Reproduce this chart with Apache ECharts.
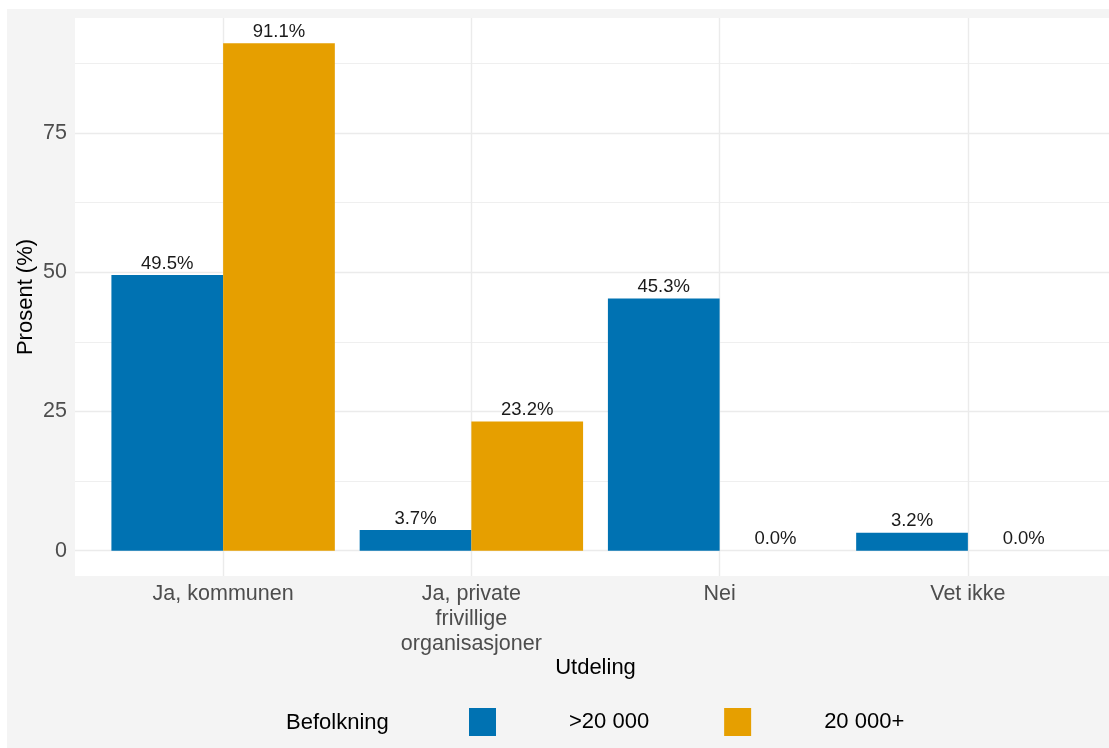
<!DOCTYPE html>
<html>
<head>
<meta charset="utf-8">
<script src="https://cdn.jsdelivr.net/npm/echarts@6/dist/echarts.min.js"></script>
<style>
html,body{margin:0;padding:0;background:#fff;}
#c{width:1109px;height:748px;}
</style>
</head>
<body>
<div id="c"></div>
<script>
const categories = ['Ja, kommunen', 'Ja, private\nfrivillige\norganisasjoner', 'Nei', 'Vet ikke'];
const seriesNames = ['>20 000', '20 000+'];
const valuesSmall = [49.5, 3.7, 45.3, 3.2];
const valuesLarge = [91.1, 23.2, 0.0, 0.0];
const yTicks = [0, 25, 50, 75];
const yMinorTicks = [12.5, 37.5, 62.5, 87.5];
const colors = ['#0072B2', '#E69F00'];
const yMin = -4.555, yMax = 95.655;

const FONT = 'Liberation Sans';
const chart = echarts.init(document.getElementById('c'), null, {renderer: 'canvas'});

const labelCfg = {
  show: true, position: 'top', distance: 2,
  fontFamily: FONT, fontSize: 18.5, color: '#1a1a1a',
  formatter: p => p.value.toFixed(1) + '%'
};

chart.setOption({
  animation: false,
  textStyle: {fontFamily: FONT},
  graphic: [
    {type: 'rect', z: -20, shape: {x: 7, y: 9, width: 1102, height: 739}, style: {fill: '#f4f4f4'}, silent: true},
    {type: 'rect', z: -19, shape: {x: 75, y: 18, width: 1034, height: 558}, style: {fill: '#ffffff'}, silent: true},
    {type: 'text', z: 10, x: 286, y: 723, style: {text: 'Befolkning', fontFamily: FONT, fontSize: 22, fill: '#000', verticalAlign: 'middle', align: 'left'}}
  ],
  legend: {
    left: 469, top: 708, padding: 0,
    icon: 'rect', itemWidth: 27, itemHeight: 28, itemGap: 75,
    data: seriesNames,
    textStyle: {fontFamily: FONT, fontSize: 22, color: '#000', padding: [0, 0, 0, 68]}
  },
  grid: [
    {left: 99, right: 17, top: 18, bottom: 172, containLabel: false},
    {left: 75, right: 0, top: 18, bottom: 172, containLabel: false}
  ],
  xAxis: [
    {
      type: 'category', gridIndex: 0, data: categories,
      axisLine: {show: false}, axisTick: {show: false},
      axisLabel: {fontFamily: FONT, fontSize: 21.5, color: '#4d4d4d', margin: 6, lineHeight: 25, interval: 0},
      splitLine: {show: false},
      name: 'Utdeling', nameLocation: 'middle', nameGap: 81, nameMoveOverlap: false,
      nameTextStyle: {fontFamily: FONT, fontSize: 22, color: '#000'}
    },
    {
      type: 'value', gridIndex: 1, min: 0, max: 1, show: false
    }
  ],
  yAxis: [
    {type: 'value', gridIndex: 0, min: yMin, max: yMax, show: false, splitLine: {show: false}},
    {
      type: 'value', gridIndex: 1, min: yMin, max: yMax,
      axisLine: {show: false}, axisTick: {show: false},
      splitLine: {show: false},
      axisLabel: {customValues: yTicks, fontFamily: FONT, fontSize: 21.5, color: '#4d4d4d', margin: 8},
      name: 'Prosent (%)', nameLocation: 'middle', nameGap: 38, nameRotate: 90, nameMoveOverlap: false,
      nameTextStyle: {fontFamily: FONT, fontSize: 22, color: '#000'}
    }
  ],
  series: [
    {
      type: 'line', xAxisIndex: 1, yAxisIndex: 1, data: [], silent: true,
      markLine: {
        silent: true, symbol: 'none', z: 0, animation: false,
        label: {show: false},
        data: yTicks.map(v => ({yAxis: v, lineStyle: {color: '#ebebeb', width: 1.4, type: 'solid'}}))
          .concat(yMinorTicks.map(v => ({yAxis: v, lineStyle: {color: '#ebebeb', width: 0.8, type: 'solid'}})))
      }
    },
    {
      type: 'line', xAxisIndex: 0, yAxisIndex: 0, data: [], silent: true,
      markLine: {
        silent: true, symbol: 'none', z: 0, animation: false,
        label: {show: false},
        lineStyle: {color: '#ebebeb', width: 1.4, type: 'solid'},
        data: categories.map(c => ({xAxis: c}))
      }
    },
    {
      name: seriesNames[0], type: 'bar', xAxisIndex: 0, yAxisIndex: 0,
      data: valuesSmall, barGap: '0%', barCategoryGap: '10%',
      itemStyle: {color: colors[0]}, label: labelCfg
    },
    {
      name: seriesNames[1], type: 'bar', xAxisIndex: 0, yAxisIndex: 0,
      data: valuesLarge, barGap: '0%', barCategoryGap: '10%',
      itemStyle: {color: colors[1]}, label: labelCfg
    }
  ]
});
</script>
</body>
</html>
